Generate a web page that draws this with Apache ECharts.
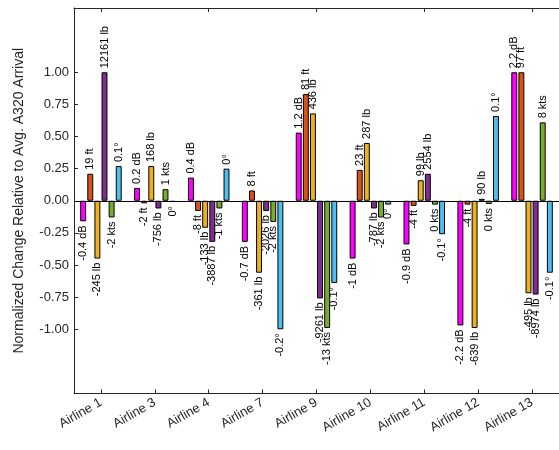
<!DOCTYPE html>
<html>
<head>
<meta charset="utf-8">
<script src="https://cdn.jsdelivr.net/npm/echarts@6/dist/echarts.min.js"></script>
<style>html,body{margin:0;padding:0;background:#fff;}#c{width:559px;height:450px;}</style>
</head>
<body>
<div id="c"></div>
<script>
var categories = ['Airline 1','Airline 3','Airline 4','Airline 7','Airline 9','Airline 10','Airline 11','Airline 12','Airline 13'];

var noiseVals   = [-0.16, 0.10, 0.18, -0.32, 0.53, -0.45, -0.34, -0.97, 1.00];
var noiseLabels = ['-0.4 dB','0.2 dB','0.4 dB','-0.7 dB','1.2 dB','-1 dB','-0.9 dB','-2.2 dB','2.2 dB'];

var altVals   = [0.21, -0.02, -0.08, 0.08, 0.83, 0.24, -0.04, -0.03, 1.00];
var altLabels = ['19 ft','-2 ft','-8 ft','8 ft','81 ft','23 ft','-4 ft','-4 ft','97 ft'];

var fuelVals   = [-0.45, 0.27, -0.21, -0.56, 0.68, 0.45, 0.16, -0.99, -0.72];
var fuelLabels = ['-245 lb','168 lb','-133 lb','-361 lb','436 lb','287 lb','99 lb','-639 lb','-495 lb'];

var weightVals   = [1.00, -0.06, -0.32, -0.08, -0.76, -0.06, 0.21, 0.015, -0.73];
var weightLabels = ['12161 lb','-756 lb','-3887 lb','-2026 lb','-9261 lb','-787 lb','2554 lb','90 lb','-8974 lb'];

var speedVals   = [-0.13, 0.09, -0.06, -0.165, -0.99, -0.13, -0.03, -0.025, 0.61];
var speedLabels = ['-2 kts','1 kts','-1 kts','-2 kts','-13 kts','-2 kts','0 kts','0 kts','8 kts'];

var angleVals   = [0.27, -0.01, 0.25, -1.00, -0.64, -0.03, -0.26, 0.66, -0.56];
var angleLabels = ['0.1°','0°','0°','-0.2°','-0.1°','0°','-0.1°','0.1°','-0.1°'];

var yTicks = [-1, -0.75, -0.5, -0.25, 0, 0.25, 0.5, 0.75, 1];

var FONT = "'Liberation Sans', Arial, Helvetica, sans-serif";
var TXT = '#262626';

function makeSeries(name, vals, labels, color) {
  return {
    name: name,
    type: 'bar',
    barGap: '20%',
    barCategoryGap: '23%',
    itemStyle: { color: color, borderColor: '#000', borderWidth: 1 },
    data: vals.map(function (v, i) {
      return {
        value: v,
        label: {
          show: true,
          position: 'outside',
          rotate: 90,
          distance: 4,
          align: v >= 0 ? 'left' : 'right',
          verticalAlign: 'middle',
          formatter: labels[i],
          fontSize: 11,
          fontFamily: FONT,
          color: '#000'
        }
      };
    })
  };
}

var series = [
  makeSeries('Noise', noiseVals, noiseLabels, '#FF00FF'),
  makeSeries('Altitude', altVals, altLabels, '#D95319'),
  makeSeries('Fuel', fuelVals, fuelLabels, '#EDB120'),
  makeSeries('Weight', weightVals, weightLabels, '#7E2F8E'),
  makeSeries('Speed', speedVals, speedLabels, '#77AC30'),
  makeSeries('Angle', angleVals, angleLabels, '#4DBEEE')
];
series[0].markLine = {
  silent: true,
  symbol: 'none',
  label: { show: false },
  lineStyle: { color: '#000', width: 1, type: 'solid' },
  data: [{ yAxis: 0 }]
};

var chart = echarts.init(document.getElementById('c'), null, { renderer: 'canvas' });
chart.setOption({
  animation: false,
  backgroundColor: '#fff',
  grid: { left: 74, top: 8, width: 492.5, height: 385.5, containLabel: false },
  xAxis: [{
    type: 'category',
    data: categories,
    position: 'bottom',
    boundaryGap: true,
    axisLine: { onZero: false, lineStyle: { color: TXT, width: 1 } },
    axisTick: { show: true, inside: true, alignWithLabel: true, length: 4, lineStyle: { color: TXT } },
    axisLabel: { rotate: 30, fontSize: 13, fontFamily: FONT, color: TXT, margin: 8 },
    splitLine: { show: false }
  }, {
    type: 'category',
    data: categories,
    position: 'top',
    boundaryGap: true,
    axisLine: { onZero: false, lineStyle: { color: TXT, width: 1 } },
    axisTick: { show: true, inside: true, alignWithLabel: true, length: 4, lineStyle: { color: TXT } },
    axisLabel: { show: false },
    splitLine: { show: false }
  }],
  yAxis: {
    type: 'value',
    min: -1.5,
    max: 1.5,
    name: 'Normalized Change Relative to Avg. A320 Arrival',
    nameLocation: 'middle',
    nameGap: 48,
    nameTextStyle: { fontSize: 14, fontFamily: FONT, color: TXT },
    axisLine: { show: true, lineStyle: { color: TXT, width: 1 } },
    axisTick: { show: true, inside: true, length: 4, customValues: yTicks, lineStyle: { color: TXT } },
    axisLabel: {
      customValues: yTicks,
      fontSize: 13, fontFamily: FONT, color: TXT, margin: 5,
      formatter: function (v) { return v.toFixed(2); }
    },
    splitLine: { show: false }
  },
  series: series
});
</script>
</body>
</html>
